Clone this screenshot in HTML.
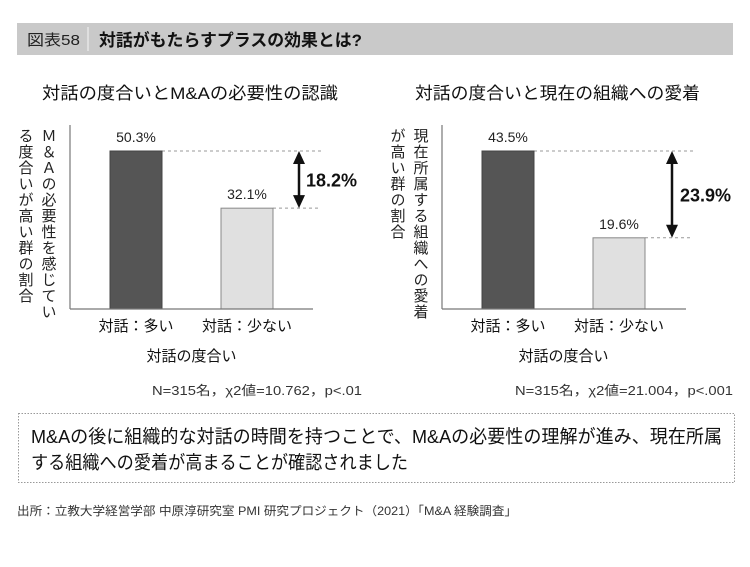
<!DOCTYPE html>
<html><head><meta charset="utf-8">
<style>
html,body{margin:0;padding:0;background:#fff;}
svg{display:block;font-family:"Liberation Sans","Noto Sans CJK JP",sans-serif;}
</style></head>
<body>
<svg id="c" width="750" height="567" viewBox="0 0 750 567" xmlns="http://www.w3.org/2000/svg">
  <rect x="17" y="23" width="716" height="32" fill="#c9c9c9"/>
  <text x="27" y="45" font-size="15" fill="#222" textLength="53" lengthAdjust="spacingAndGlyphs">図表58</text>
  <line x1="88" y1="27" x2="88" y2="51" stroke="#e6e6e6" stroke-width="1.5"/>
  <text x="99" y="46" font-size="17" font-weight="bold" fill="#111" textLength="263" lengthAdjust="spacingAndGlyphs">対話がもたらすプラスの効果とは?</text>

  <text x="42" y="99" font-size="17" fill="#111" textLength="296" lengthAdjust="spacingAndGlyphs">対話の度合いとM&amp;Aの必要性の認識</text>
  <text x="415" y="99" font-size="17" fill="#111" textLength="285" lengthAdjust="spacingAndGlyphs">対話の度合いと現在の組織への愛着</text>

  <g id="left"></g>
  <g id="right"></g>

  <text x="152" y="395" font-size="13" fill="#333" textLength="210" lengthAdjust="spacingAndGlyphs">N=315名，χ2値=10.762，p&lt;.01</text>
  <text x="515" y="395" font-size="13" fill="#333" textLength="218" lengthAdjust="spacingAndGlyphs">N=315名，χ2値=21.004，p&lt;.001</text>

  <rect x="18.5" y="413.5" width="716" height="69" fill="none" stroke="#999" stroke-dasharray="1.5,1.5"/>
  <text x="31" y="443" font-size="18.5" fill="#111" textLength="691" lengthAdjust="spacingAndGlyphs">M&amp;Aの後に組織的な対話の時間を持つことで、M&amp;Aの必要性の理解が進み、現在所属</text>
  <text x="31" y="469" font-size="18.5" fill="#111" textLength="377" lengthAdjust="spacingAndGlyphs">する組織への愛着が高まることが確認されました</text>

  <text x="17" y="515" font-size="12" fill="#333" textLength="500" lengthAdjust="spacingAndGlyphs">出所：立教大学経営学部 中原淳研究室 PMI 研究プロジェクト（2021）「M&amp;A 経験調査」</text>
</svg>
<script>
const categories = ["対話：多い", "対話：少ない"];
const leftValues = [50.3, 32.1];
const rightValues = [43.5, 19.6];
const leftYTitle = ["Ｍ＆Ａの必要性を感じてい", "る度合いが高い群の割合"];
const rightYTitle = ["現在所属する組織への愛着", "が高い群の割合"];
const xTitle = "対話の度合い";

const NS = "http://www.w3.org/2000/svg";
function mk(parent, tag, attrs, text) {
  const e = document.createElementNS(NS, tag);
  for (const k in attrs) e.setAttribute(k, attrs[k]);
  if (text !== undefined) e.textContent = text;
  parent.appendChild(e);
  return e;
}

function drawChart(g, values, cfg, ytitle) {
  const base = 309;
  const maxV = Math.max(...values);
  const y = v => base - v / maxV * 158;
  const barX = [cfg.ax + 40, cfg.ax + 151];
  const bw = 52;

  const t1 = mk(g, "text", {x: cfg.ax - 22, y: 128, "font-size": 15, fill: "#222", "writing-mode": "vertical-rl", "letter-spacing": 1});
  t1.textContent = ytitle[0];
  
  
  const t2 = mk(g, "text", {x: cfg.ax - 45, y: 128, "font-size": 15, fill: "#222", "writing-mode": "vertical-rl", "letter-spacing": 1});
  t2.textContent = ytitle[1];
  
  

  values.forEach((v, i) => {
    const l = mk(g, "line", {x1: barX[i] + bw, x2: cfg.dashEnd, y1: y(v), y2: y(v), stroke: "#999", "stroke-dasharray": "3,3"});
    
    
  });

  values.forEach((v, i) => {
    const r = mk(g, "rect", {x: barX[i], y: y(v), width: bw, height: base - y(v),
      fill: i === 0 ? "#555" : "#e0e0e0", stroke: i === 0 ? "#444" : "#888", "stroke-width": 1});
    
    
    const lb = mk(g, "text", {x: barX[i] + bw / 2, y: y(v) - 9, "font-size": 14, fill: "#222", "text-anchor": "middle"}, v.toFixed(1) + "%");
    
    
    const cl = mk(g, "text", {x: barX[i] + bw / 2, y: 331, "font-size": 15, fill: "#111", "text-anchor": "middle"}, categories[i]);
    
    
  });

  const ya = mk(g, "line", {x1: cfg.ax, x2: cfg.ax, y1: 125, y2: base, stroke: "#777", "stroke-width": 1.2});
  
  
  const xa = mk(g, "line", {x1: cfg.ax, x2: cfg.axEnd, y1: base, y2: base, stroke: "#777", "stroke-width": 1.2});
  
  

  const y1 = y(values[0]), y2 = y(values[1]);
  const ax = cfg.arrowX;
  const aline = mk(g, "line", {x1: ax, x2: ax, y1: y1 + 12, y2: y2 - 12, stroke: "#111", "stroke-width": 2.5});
  
  
  const hd = mk(g, "path", {d: `M${ax - 6},${y2 - 13} L${ax + 6},${y2 - 13} L${ax},${y2} Z`, fill: "#111"});
  
  
  const hu = mk(g, "path", {d: `M${ax - 6},${y1 + 13} L${ax + 6},${y1 + 13} L${ax},${y1} Z`, fill: "#111"});
  
  
  const diff = (values[0] - values[1]).toFixed(1) + "%";
  const dl = mk(g, "text", {x: cfg.diffX, y: (y1 + y2) / 2 + 7, "font-size": 18, "font-weight": "bold", fill: "#111"}, diff);
  
  

  const xt = mk(g, "text", {x: (barX[0] + barX[1] + bw) / 2, y: 361, "font-size": 15, fill: "#111", "text-anchor": "middle"}, xTitle);
  
  
}

drawChart(document.getElementById("left"), leftValues,
  {ax: 70, axEnd: 313, dashEnd: 321, arrowX: 299, diffX: 306}, leftYTitle);
drawChart(document.getElementById("right"), rightValues,
  {ax: 442, axEnd: 686, dashEnd: 693, arrowX: 672, diffX: 680}, rightYTitle);
</script>
</body></html>
